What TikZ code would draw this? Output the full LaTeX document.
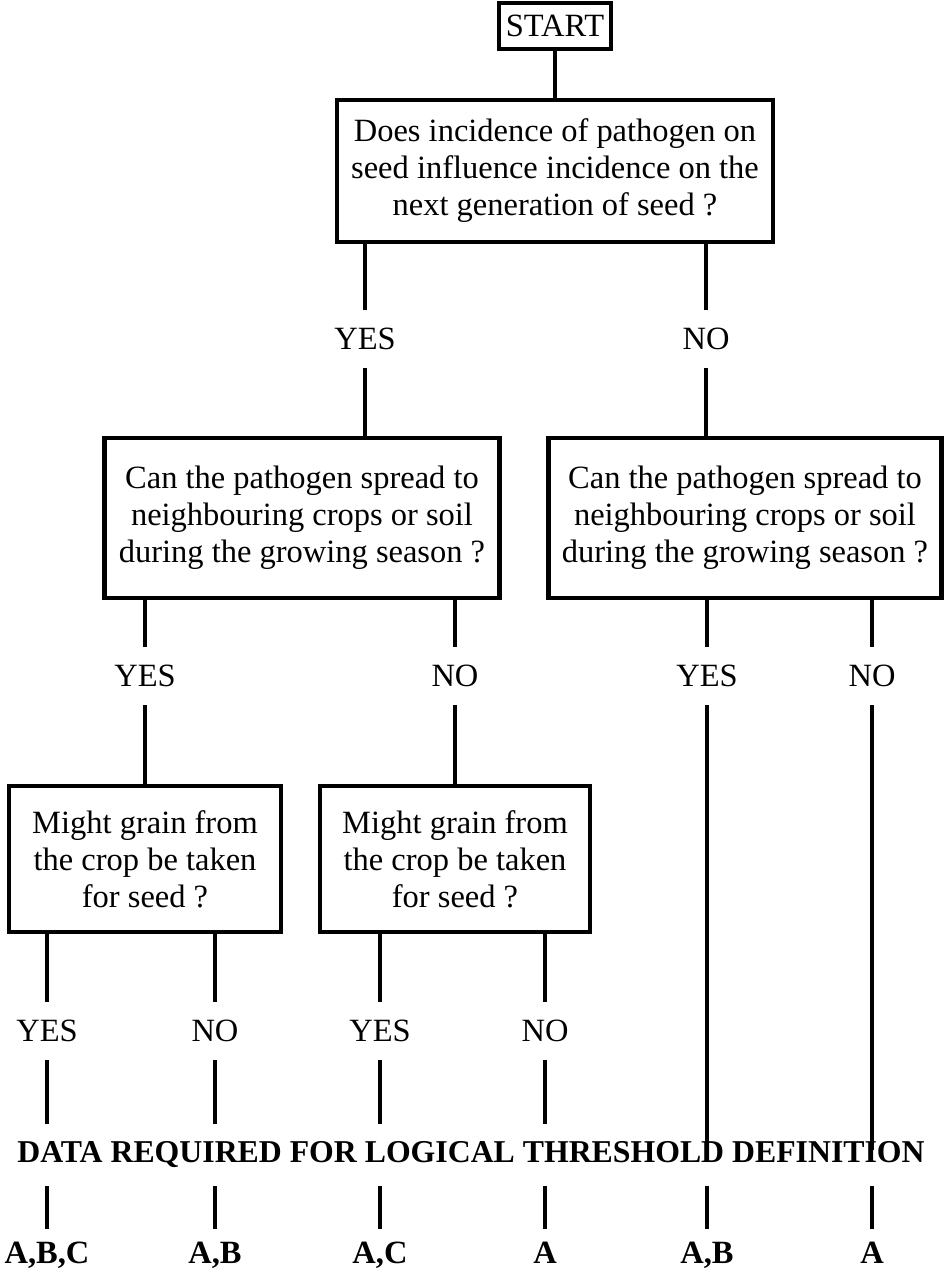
\documentclass[tikz,border=0pt]{standalone}
\usepackage{fontspec}
\setmainfont{Liberation Serif}
\usetikzlibrary{calc}
\newcommand\chartfont{\fontsize{23.1}{26.3}\selectfont}

\begin{document}
\begin{tikzpicture}[x=0.025cm,y=-0.025cm,
    box/.style={draw,line width=3.4pt,align=center,inner sep=0pt,font=\chartfont},
    lbl/.style={inner xsep=0pt,inner ysep=0.45cm,font=\chartfont},
    datatext/.style={lbl,font=\fontsize{22.6}{26}\selectfont\bfseries},
    res/.style={inner xsep=0pt,inner ysep=0.3cm,anchor=base,font=\chartfont\bfseries},
    link/.style={line width=3pt}]
\useasboundingbox (0,0) rectangle (943,1270);

\node[box,minimum width=2.8cm,minimum height=1.15cm] (start) at (555,26) {START};
\node[box,minimum width=10.9cm,minimum height=3.55cm] (q1) at (555,171)
    {Does incidence of pathogen on\\seed influence incidence on the\\next generation of seed ?};
\node[lbl] (yes1) at (365,339) {YES};
\node[lbl] (no1) at (706,339) {NO};

\node[box,minimum width=9.875cm,minimum height=4cm] (q2a) at (302,518)
    {Can the pathogen spread to\\neighbouring crops or soil\\during the growing season ?};
\node[box,minimum width=9.825cm,minimum height=4cm] (q2b) at (745,518)
    {Can the pathogen spread to\\neighbouring crops or soil\\during the growing season ?};
\node[lbl] (yes2) at (145,676) {YES};
\node[lbl] (no2) at (455,676) {NO};
\node[lbl] (yes3) at (707,676) {YES};
\node[lbl] (no3) at (872,676) {NO};

\node[box,minimum width=6.8cm,minimum height=3.65cm] (q3a) at (145,859)
    {Might grain from\\the crop be taken\\for seed ?};
\node[box,minimum width=6.75cm,minimum height=3.65cm] (q3b) at (455,859)
    {Might grain from\\the crop be taken\\for seed ?};
\node[lbl] (yes4) at (47,1031) {YES};
\node[lbl] (no4) at (215,1031) {NO};
\node[lbl] (yes5) at (380,1031) {YES};
\node[lbl] (no5) at (545,1031) {NO};

\node[datatext] (data) at (471,1155) {DATA REQUIRED FOR LOGICAL THRESHOLD DEFINITION};

\node[res] (r1) at (47,1263) {A,B,C};
\node[res] (r2) at (215,1263) {A,B};
\node[res] (r3) at (380,1263) {A,C};
\node[res] (r4) at (545,1263) {A};
\node[res] (r5) at (707,1263) {A,B};
\node[res] (r6) at (872,1263) {A};

\draw[link] (start) -- (q1);
\draw[link] (q1.south -| yes1) -- (yes1.north);
\draw[link] (q1.south -| no1) -- (no1.north);
\draw[link] (yes1.south) -- (yes1.south |- q2a.north);
\draw[link] (no1.south) -- (no1.south |- q2b.north);

\draw[link] (q2a.south -| yes2) -- (yes2.north);
\draw[link] (q2a.south -| no2) -- (no2.north);
\draw[link] (q2b.south -| yes3) -- (yes3.north);
\draw[link] (q2b.south -| no3) -- (no3.north);
\draw[link] (yes2.south) -- (yes2.south |- q3a.north);
\draw[link] (no2.south) -- (no2.south |- q3b.north);
\draw[link] (yes3.south) -- ($(yes3.south |- data.north)+(0,20)$);
\draw[link] (no3.south) -- ($(no3.south |- data.north)+(0,26)$);

\draw[link] (q3a.south -| yes4) -- (yes4.north);
\draw[link] (q3a.south -| no4) -- (no4.north);
\draw[link] (q3b.south -| yes5) -- (yes5.north);
\draw[link] (q3b.south -| no5) -- (no5.north);
\foreach \n in {yes4,no4,yes5,no5}
    \draw[link] (\n.south) -- (\n.south |- data.north);

\foreach \r in {r1,r2,r3,r4,r5,r6}
    \draw[link] (data.south -| \r) -- (\r.north);
\end{tikzpicture}
\end{document}
